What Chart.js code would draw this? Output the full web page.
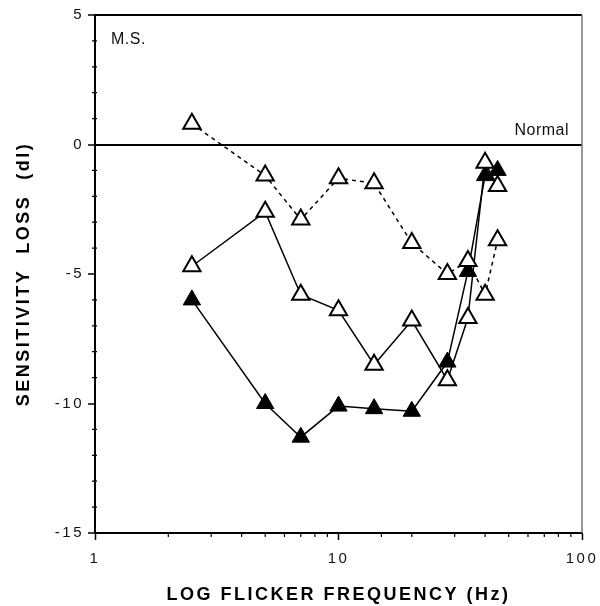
<!DOCTYPE html>
<html lang="en">
<head>
  <meta charset="UTF-8">
  <title>Sensitivity loss vs flicker frequency</title>
  <script src="https://cdn.jsdelivr.net/npm/chart.js"></script>
  <style>
    body { margin: 0; background: #fff; }
    #wrap { width: 600px; height: 606px; }
  </style>
</head>
<body>
  <div id="wrap"><canvas id="flickerChart"></canvas></div>

  <script>
    // flicker frequencies (Hz)
    const freqs = [2.5, 5, 7, 10, 14, 20, 28, 34, 40, 45];
    // sensitivity loss (dl) per series
    const dashedLoss = [0.8, -1.2, -2.9, -1.3, -1.5, -3.8, -5.0, -4.5, -5.8, -3.7];
    const openLoss = [-4.7, -2.6, -5.8, -6.4, -8.5, -6.8, -9.1, -6.7, -0.7, -1.6];
    const filledLoss = [-6.0, -10.0, -11.3, -10.1, -10.2, -10.3, -8.4, -4.9, -1.2, -1.0];
    const xTickLabels = [1, 10, 100];
    const yTickLabels = [5, 0, -5, -10, -15];

    const pts = arr => freqs.map((f, i) => ({ x: f, y: arr[i] }));
    const isDecade = v => Math.abs(Math.log10(v) - Math.round(Math.log10(v))) < 1e-9;

    // letter spacing for axis text, short minor ticks, frame and labels
    const decor = {
      id: 'decor',
      beforeDraw(chart) {
        chart.ctx.letterSpacing = '2.5px';
      },
      beforeDatasetsDraw(chart) {
        const { ctx, chartArea: a, scales: { x, y } } = chart;
        ctx.save();
        ctx.letterSpacing = '0px';
        ctx.strokeStyle = '#000';
        ctx.lineWidth = 1.2;
        ctx.beginPath();
        x.ticks.forEach(t => {
          if (isDecade(t.value)) return;
          const px = x.getPixelForValue(t.value);
          ctx.moveTo(px, a.bottom); ctx.lineTo(px, a.bottom + 4);
        });
        y.ticks.forEach(t => {
          if (t.value % 5 === 0) return;
          const py = y.getPixelForValue(t.value);
          ctx.moveTo(a.left - 3, py); ctx.lineTo(a.left + 2, py);
        });
        ctx.stroke();

        // top and right frame
        ctx.lineWidth = 2;
        ctx.beginPath();
        ctx.moveTo(a.left, a.top); ctx.lineTo(a.right, a.top);
        ctx.stroke();
        ctx.strokeStyle = '#777';
        ctx.lineWidth = 1.5;
        ctx.beginPath();
        ctx.moveTo(a.right, a.top); ctx.lineTo(a.right, a.bottom);
        ctx.stroke();

        ctx.fillStyle = '#111';
        ctx.font = '16px "Liberation Sans", Arial, sans-serif';
        ctx.letterSpacing = '0.5px';
        ctx.textBaseline = 'alphabetic';
        ctx.textAlign = 'left';
        ctx.fillText('M.S.', a.left + 16, a.top + 29);
        ctx.textAlign = 'right';
        ctx.fillText('Normal', a.right - 13, y.getPixelForValue(0) - 10);
        ctx.restore();
      }
    };

    const ctx = document.getElementById('flickerChart').getContext('2d');
    new Chart(ctx, {
      type: 'line',
      data: {
        datasets: [
          {
            data: pts(dashedLoss),
            borderColor: '#000',
            borderWidth: 1.5,
            borderDash: [4, 4],
            pointStyle: 'triangle',
            pointRadius: 10,
            pointBackgroundColor: '#fff',
            pointBorderColor: '#000',
            pointBorderWidth: 2
          },
          {
            data: pts(openLoss),
            borderColor: '#000',
            borderWidth: 1.5,
            pointStyle: 'triangle',
            pointRadius: 10,
            pointBackgroundColor: '#fff',
            pointBorderColor: '#000',
            pointBorderWidth: 2
          },
          {
            data: pts(filledLoss),
            borderColor: '#000',
            borderWidth: 1.5,
            pointStyle: 'triangle',
            pointRadius: 10,
            pointBackgroundColor: '#000',
            pointBorderColor: '#000',
            pointBorderWidth: 1
          }
        ]
      },
      options: {
        responsive: true,
        maintainAspectRatio: false,
        animation: false,
        layout: { padding: { left: 0, top: 15, right: 18, bottom: 0 } },
        plugins: {
          legend: { display: false },
          tooltip: { enabled: false }
        },
        scales: {
          x: {
            type: 'logarithmic',
            min: 1,
            max: 100,
            afterFit: s => { s.height = 73; s.paddingLeft = 0; s.paddingRight = 0; },
            border: { display: true, color: '#000', width: 2 },
            grid: {
              drawOnChartArea: false,
              tickLength: 7,
              tickWidth: 1.5,
              tickColor: c => isDecade(c.tick.value) ? '#000' : 'rgba(0,0,0,0)'
            },
            ticks: {
              autoSkip: false,
              maxRotation: 0,
              padding: 10,
              color: '#111',
              font: { family: '"Liberation Sans", Arial, sans-serif', size: 15 },
              callback: v => xTickLabels.includes(v) ? String(v) : ''
            },
            title: {
              display: true,
              text: 'LOG FLICKER FREQUENCY (Hz)',
              color: '#000',
              padding: { top: 0, bottom: 0 },
              font: { family: '"Liberation Sans", Arial, sans-serif', size: 18, weight: 'bold' }
            }
          },
          y: {
            min: -15,
            max: 5,
            afterFit: s => { s.width = 95; s.paddingTop = 0; s.paddingBottom = 0; },
            border: { display: true, color: '#000', width: 2 },
            grid: {
              drawOnChartArea: true,
              color: c => c.tick.value === 0 ? '#000' : 'rgba(0,0,0,0)',
              lineWidth: 2,
              tickLength: 7,
              tickWidth: 1.5,
              tickColor: c => c.tick.value % 5 === 0 ? '#000' : 'rgba(0,0,0,0)'
            },
            ticks: {
              stepSize: 1,
              autoSkip: false,
              padding: 4,
              color: '#111',
              font: { family: '"Liberation Sans", Arial, sans-serif', size: 15 },
              callback: v => yTickLabels.includes(v) ? String(v) : ''
            },
            title: {
              display: true,
              text: 'SENSITIVITY  LOSS  (dl)',
              color: '#000',
              padding: { top: 13, bottom: 0 },
              font: { family: '"Liberation Sans", Arial, sans-serif', size: 18, weight: 'bold' }
            }
          }
        }
      },
      plugins: [decor]
    });
  </script>
</body>
</html>
